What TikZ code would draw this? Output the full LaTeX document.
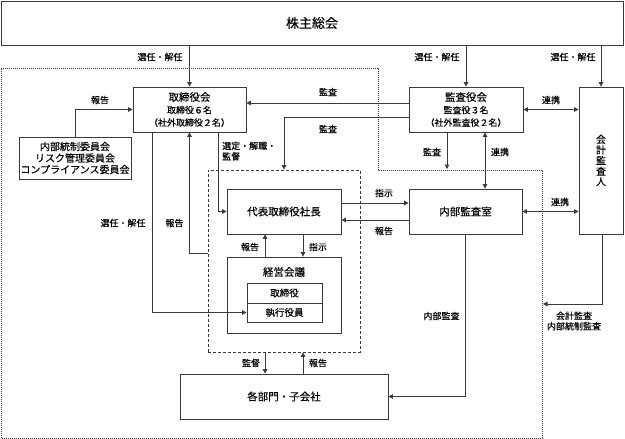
\documentclass[tikz,border=0pt]{standalone}
\usepackage{fontspec}
\setmainfont{Noto Sans CJK JP}[FakeBold=0.3]
\usetikzlibrary{arrows.meta}
\definecolor{linec}{HTML}{3A3A3A}
\tikzset{
 box/.style={draw=linec, line width=0.8pt, rectangle, inner sep=0pt, align=center, font=\fontsize{10.5}{13}\selectfont},
 lbl/.style={font=\fontsize{9}{10.5}\selectfont, inner sep=0pt},
 arr/.style={draw=linec, line width=0.8pt, -{Triangle[length=4.5pt,width=4.5pt]}},
 darr/.style={draw=linec, line width=0.8pt, {Triangle[length=4.5pt,width=4.5pt]}-{Triangle[length=4.5pt,width=4.5pt]}},
 grpbox/.style={draw=linec, line width=0.7pt, dash pattern=on 3pt off 2pt, rectangle, inner sep=0pt},
 dotline/.style={draw=linec, line width=0.6pt, dash pattern=on 1pt off 1pt},
}
\begin{document}
\begin{tikzpicture}[x=1pt,y=-1pt]
\useasboundingbox (0,0) rectangle (625,439);
% outer dotted region
\draw[dotline] (1,68) -- (378,68) -- (378,170) -- (542,170) -- (542,438) -- (1,438) -- cycle;
% nodes
\node[box, minimum width=622pt, minimum height=44pt, font=\fontsize{13}{15}\selectfont] (soukai) at (312,23) {株主総会};
\node[box, minimum width=113pt, minimum height=45pt, font=\fontsize{9}{12.5}\selectfont] (tor) at (189.5,109.5) {{\fontsize{10.5}{12.5}\selectfont 取締役会}\\取締役６名\\（社外取締役２名）};
\node[box, minimum width=112pt, minimum height=42pt, font=\fontsize{10}{11.5}\selectfont] (iin) at (75,158) {内部統制委員会\\リスク管理委員会\\コンプライアンス委員会};
\node[box, minimum width=114pt, minimum height=45pt, font=\fontsize{9}{12.5}\selectfont] (kansa) at (466,109.5) {{\fontsize{10.5}{12.5}\selectfont 監査役会}\\監査役３名\\（社外監査役２名）};
\node[box, minimum width=44pt, minimum height=147pt, font=\fontsize{10}{10.6}\selectfont] (kaikei) at (601,160.5) {会\\計\\監\\査\\人};
\node[grpbox, minimum width=152pt, minimum height=182pt] (grp) at (284,261) {};
\node[box, minimum width=114pt, minimum height=45pt] (ceo) at (284,211.5) {代表取締役社長};
\node[box, minimum width=114pt, minimum height=76pt] (keiei) at (284,295) {};
\node[font=\fontsize{10.5}{13}\selectfont, inner sep=0pt] (keieit) at (284,272) {経営会議};
\node[box, minimum width=75pt, minimum height=20pt, font=\fontsize{9.5}{11}\selectfont] (torin) at (284.5,293) {取締役};
\node[box, minimum width=75pt, minimum height=19pt, font=\fontsize{9.5}{11}\selectfont] (shikko) at (284.5,312.5) {執行役員};
\node[box, minimum width=113pt, minimum height=45pt] (naibu) at (465.5,211.5) {内部監査室};
\node[box, minimum width=208pt, minimum height=45pt] (bumon) at (284,396.5) {各部門・子会社};
% helper coordinates
\coordinate (y103) at (0,103);
\coordinate (y117) at (0,117);
\coordinate (y203) at (0,203);
\coordinate (y220) at (0,220);
\coordinate (y253) at (0,253);
\coordinate (x152) at (152,0);
\coordinate (x218) at (218,0);
\coordinate (x265) at (265,0);
\coordinate (x303) at (303,0);
\coordinate (x447) at (447,0);
\coordinate (x485) at (485,0);
\coordinate (x602) at (602,0);
\coordinate (kz) at (447,169);
\coordinate (kk) at (543,304);
% connectors
\draw[arr] (soukai.south -| tor.north) -- (tor.north);
\draw[arr] (soukai.south -| kansa.north) -- (kansa.north);
\draw[arr] (soukai.south -| kaikei.north) -- (kaikei.north);
\draw[arr] (iin.north) |- (tor.west);
\draw[arr] (kansa.west |- y103) -- (tor.east |- y103);
\draw[arr] (kansa.west |- y117) -| (grp.north);
\draw[arr] (tor.south -| x152) |- (shikko.west);
\draw[arr] (grp.west |- y253) -| (tor.south);
\draw[arr] (tor.south -| x218) |- (ceo.west);
\draw[arr] (keiei.north -| x265) -- (ceo.south -| x265);
\draw[arr] (ceo.south -| x303) -- (keiei.north -| x303);
\draw[arr] (ceo.east |- y203) -- (naibu.west |- y203);
\draw[arr] (naibu.west |- y220) -- (ceo.east |- y220);
\draw[arr] (kansa.south -| x447) -- (kz);
\draw[darr] (kansa.south -| x485) -- (naibu.north -| x485);
\draw[darr] (kansa.east) -- (kaikei.west |- kansa.east);
\draw[darr] (naibu.east) -- (kaikei.west |- naibu.east);
\draw[arr] (kaikei.south -| x602) |- (kk);
\draw[arr] (naibu.south) |- (bumon.east);
\draw[arr] (grp.south -| x265) -- (bumon.north -| x265);
\draw[arr] (bumon.north -| x303) -- (grp.south -| x303);
% labels
\node[lbl] (l1) at (160,57) {選任・解任};
\node[lbl] (l2) at (437,57) {選任・解任};
\node[lbl] (l3) at (573,57) {選任・解任};
\node[lbl] (l4) at (100,100) {報告};
\node[lbl] (l5) at (328,92) {監査};
\node[lbl] (l6) at (328,129) {監査};
\node[lbl, anchor=north west, align=left] (l7) at (222,141.5) {選定・解職・\\監督};
\node[lbl] (l8) at (123,223) {選任・解任};
\node[lbl] (l9) at (174.5,223) {報告};
\node[lbl] (l10) at (250,247) {報告};
\node[lbl] (l11) at (318,247) {指示};
\node[lbl] (l12) at (384,193) {指示};
\node[lbl] (l13) at (384,231) {報告};
\node[lbl] (l14) at (432,152) {監査};
\node[lbl] (l15) at (500,152) {連携};
\node[lbl] (l16) at (551,100) {連携};
\node[lbl] (l17) at (560,202) {連携};
\node[lbl, align=center] (l18) at (574,321) {会計監査\\内部統制監査};
\node[lbl] (l19) at (441.5,316) {内部監査};
\node[lbl] (l20) at (251,363) {監督};
\node[lbl] (l21) at (318,363) {報告};
\end{tikzpicture}
\end{document}
